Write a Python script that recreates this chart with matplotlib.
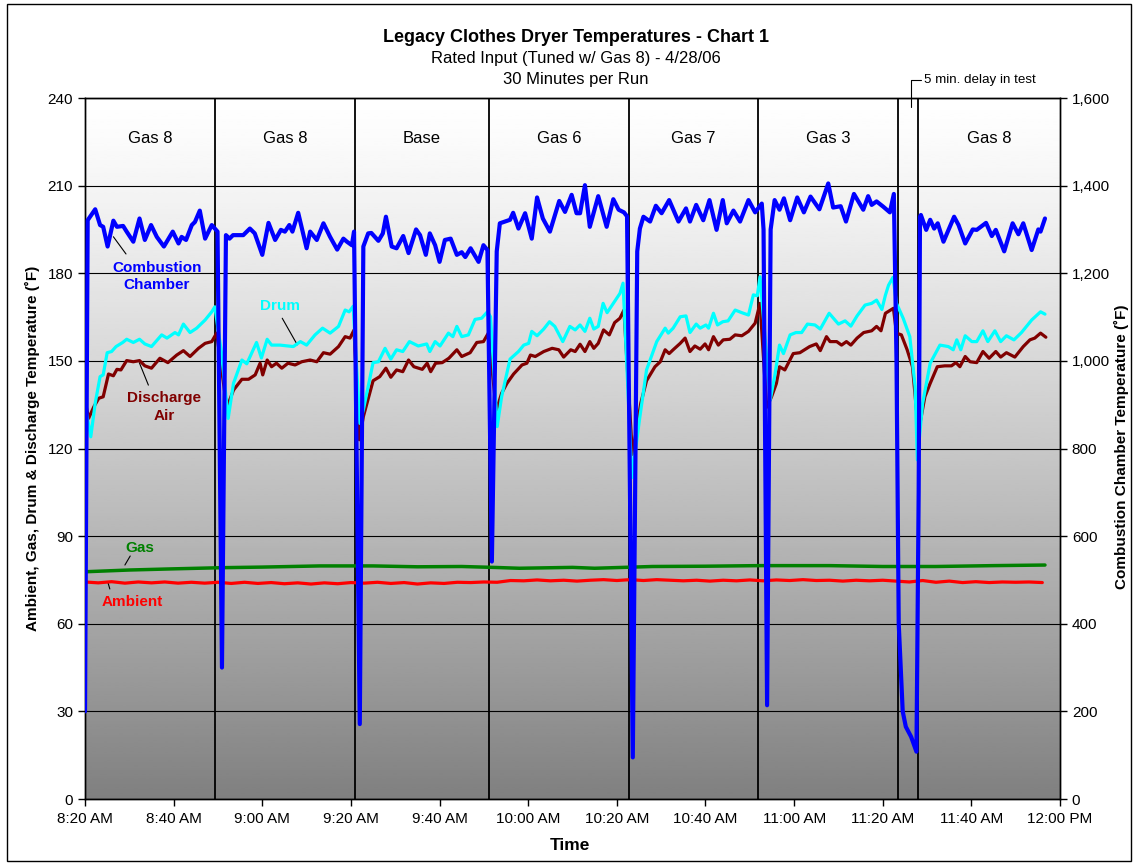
import numpy as np
import matplotlib
matplotlib.use('Agg')
import matplotlib.pyplot as plt
from matplotlib.ticker import FuncFormatter
from matplotlib.patches import Rectangle

plt.rcParams['font.family'] = ['Liberation Sans', 'DejaVu Sans']
plt.rcParams['font.size'] = 11
plt.rcParams['lines.solid_joinstyle'] = 'round'
plt.rcParams['lines.solid_capstyle'] = 'round'

# time in minutes after 8:20 AM
xtick_min = [0, 20, 40, 60, 80, 100, 120, 140, 160, 180, 200, 220]
xtick_lab = ['8:20 AM', '8:40 AM', '9:00 AM', '9:20 AM', '9:40 AM', '10:00 AM',
             '10:20 AM', '10:40 AM', '11:00 AM', '11:20 AM', '11:40 AM', '12:00 PM']

# run boundaries (minutes) and run names
bounds = [29.3, 60.9, 91.2, 122.7, 151.9, 183.5, 187.9]
run_start = [0, 29.3, 60.9, 91.2, 122.7, 151.9, 187.9]
run_end = [29.3, 60.9, 91.2, 122.7, 151.9, 183.5, 220]
run_names = ['Gas 8', 'Gas 8', 'Base', 'Gas 6', 'Gas 7', 'Gas 3', 'Gas 8']

# combustion chamber (F, right axis)
comb_t = [0, 0.6, 2.3, 3.4, 4.1, 5.1, 6.4, 7.2, 8.6, 9.4, 10.9, 12.3, 13.5, 14.9, 16.2,
          17.8, 19.8, 21.1, 21.8, 22.8, 24.1, 24.8, 25.9, 27.1, 28.6, 29.9, 30.9, 31.8,
          32.6, 33.4, 35.7, 37.2, 38.3, 40.0, 41.4, 42.9, 44.2, 45.1, 46.1, 46.8, 48.1,
          50.0, 50.8, 52.3, 53.8, 55.3, 56.9, 58.3, 59.1, 60.2, 60.7, 62.0, 62.8, 63.9,
          64.6, 66.2, 67.2, 67.9, 69.2, 70.3, 71.8, 73.0, 74.7, 75.6, 76.9, 77.8, 79.0,
          80.0, 81.2, 82.5, 83.9, 85.0, 85.8, 87.0, 88.8, 89.9, 90.8, 91.8, 92.9, 93.6,
          95.9, 96.6, 97.8, 99.3, 100.8, 102.0, 103.3, 104.9, 107.0, 108.3, 109.8, 110.9,
          111.7, 112.8, 113.9, 115.8, 117.7, 119.2, 120.4, 121.6, 122.3, 123.6, 124.6,
          125.2, 126.0, 127.5, 128.8, 130.1, 131.8, 133.9, 135.6, 136.5, 137.9, 139.5,
          140.9, 142.5, 143.9, 144.8, 146.3, 147.8, 149.7, 151.2, 152.7, 153.1, 153.9,
          154.7, 155.6, 156.7, 157.7, 159.1, 160.7, 162.2, 163.7, 165.7, 167.7, 168.8,
          170.5, 171.7, 173.5, 175.6, 176.7, 177.5, 178.6, 180.1, 181.6, 182.5, 183.1,
          183.6, 184.5, 185.2, 186.4, 187.6, 188.1, 188.4, 188.6, 189.8, 190.7, 191.6,
          192.4, 193.7, 196.1, 197.1, 198.6, 200.3, 201.2, 203.3, 204.6, 205.5, 207.4,
          209.3, 210.6, 211.7, 213.6, 215.1, 215.6, 216.6]
comb_v = [200, 1321, 1346, 1310, 1306, 1261, 1320, 1306, 1308, 1295, 1272, 1325, 1276, 1310, 1283,
          1261, 1295, 1268, 1283, 1276, 1310, 1317, 1343, 1279, 1310, 1295, 300, 1287,
          1279, 1287, 1287, 1302, 1291, 1242, 1315, 1276, 1299, 1295, 1310, 1295, 1338,
          1257, 1295, 1276, 1314, 1283, 1254, 1279, 1272, 1264, 1295, 171, 1261, 1291,
          1292, 1274, 1291, 1329, 1261, 1257, 1285, 1246, 1300, 1287, 1242, 1291, 1264,
          1226, 1276, 1279, 1242, 1248, 1237, 1257, 1226, 1264, 1253, 542, 1250, 1314,
          1322, 1338, 1302, 1337, 1279, 1373, 1325, 1295, 1365, 1340, 1379, 1337,
          1337, 1401, 1306, 1376, 1306, 1369, 1345, 1339, 1330, 95, 1250,
          1302, 1329, 1318, 1354, 1337, 1367, 1318, 1348, 1318, 1356, 1321,
          1367, 1299, 1367, 1314, 1343, 1318, 1367, 1339, 1359, 1300, 214,
          1300, 1367, 1345, 1371, 1321, 1373, 1339, 1375, 1346, 1405, 1350,
          1353, 1318, 1381, 1345, 1376, 1356, 1364, 1352, 1339, 1381, 1000,
          400, 200, 165, 142, 108, 700, 1329, 1333, 1299, 1322, 1302,
          1314, 1272, 1329, 1310, 1268, 1300, 1299, 1315, 1285, 1299, 1250,
          1314, 1289, 1314, 1253, 1300, 1295, 1325]

# drum (F, left axis)
drum_t = [0, 1.3, 2.3, 3.4, 4.1, 5.0, 6.0, 7.0, 8.5, 9.4, 10.9, 12.3, 13.5, 15.0, 17.3, 18.5,
          20.3, 21.1, 22.2, 23.7, 25.2, 27.1, 28.6, 29.3, 30.8, 32.3, 33.5, 35.4, 36.5, 38.7,
          39.8, 41.1, 42.1, 44.0, 47.0, 48.6, 50.0, 51.9, 53.6, 55.3, 57.2, 58.7, 59.6, 60.5,
          62.0, 62.8, 65.0, 66.2, 67.7, 69.0, 70.3, 71.7, 73.2, 75.2, 77.1, 77.8, 79.0, 80.1,
          82.0, 83.0, 83.9, 85.0, 86.5, 88.0, 89.5, 90.8, 91.5, 93.0, 94.0, 95.9, 97.8, 99.0,
          100.1, 100.8, 102.0, 103.5, 104.8, 106.0, 107.8, 109.4, 110.6, 111.7, 112.8, 113.9,
          114.8, 115.8, 116.9, 117.8, 119.2, 120.7, 121.4, 123.4, 125.1, 126.7, 129.0, 130.9,
          131.6, 132.7, 134.3, 135.6, 136.5, 137.9, 138.8, 140.1, 140.7, 141.8, 142.7, 143.9,
          145.1, 146.7, 148.2, 149.7, 150.8, 151.7, 152.3, 154.6, 155.6, 156.7, 157.6, 159.1,
          160.4, 161.7, 163.0, 164.7, 165.9, 167.9, 170.0, 171.5, 172.8, 174.2, 176.0, 177.5,
          178.6, 179.8, 180.6, 181.3, 182.3, 183.1, 184.6, 186.1, 187.3, 187.8, 189.0, 190.7,
          192.9, 194.8, 195.9, 196.7, 197.6, 198.6, 200.1, 201.2, 202.6, 203.7, 205.3, 206.6,
          207.9, 209.6, 211.3, 213.6, 215.6, 216.6]
drum_v = [134.9, 124.0, 135.5, 144.6, 145.2, 152.8, 153.2, 154.9, 156.3, 157.4, 156.3, 157.4, 155.8, 154.9, 158.9, 157.8,
          159.7, 158.9, 162.6, 159.7, 161.2, 164.0, 166.8, 168.5, 152.7, 130.3, 142.3, 150.3, 149.0, 156.3,
          151.0, 157.4, 155.4, 155.4, 154.9, 156.6, 155.4, 158.9, 161.2, 159.5, 161.8, 167.4, 166.8, 168.7,
          128.6, 133.2, 149.4, 149.7, 154.3, 150.6, 153.8, 153.2, 156.6, 155.1, 155.8, 153.2, 156.6, 155.1,
          159.5, 158.3, 161.8, 158.3, 158.9, 164.2, 164.6, 166.8, 165.1, 127.5, 137.7, 150.6, 153.2, 155.4,
          156.0, 160.1, 158.6, 160.9, 163.4, 161.8, 156.6, 161.8, 160.6, 162.3, 160.1, 164.6,
          160.9, 161.8, 169.7, 166.5, 169.7, 173.1, 176.6, 110.0, 129.8, 146.9, 156.6, 161.2,
          159.5, 161.2, 165.1, 165.4, 159.7, 162.6, 161.2, 162.3, 161.2, 166.3, 162.3, 163.4,
          163.7, 167.4, 166.5, 165.7, 172.6, 172.3, 178.8, 136.6, 144.6, 155.4, 152.5, 158.9,
          159.7, 159.7, 162.6, 162.3, 160.9, 166.3, 162.6, 163.7, 161.9, 165.4, 169.1, 169.7,
          170.8, 167.6, 172.5, 175.9, 178.6, 169.7, 164.6, 158.3, 141.2, 116.1, 135.5, 149.2,
          155.4, 154.9, 153.8, 157.2, 153.8, 158.6, 156.6, 156.6, 160.3, 156.6, 160.3, 156.6,
          158.6, 157.2, 159.7, 164.0, 166.8, 166.0]

# discharge air (F, left axis)
dis_t = [0, 0.8, 2.0, 3.1, 4.1, 5.3, 6.4, 7.2, 8.1, 9.4, 10.9, 12.3, 13.5, 15.0, 16.9, 18.7,
         20.7, 22.2, 23.7, 25.6, 27.1, 28.6, 29.7, 32.0, 33.5, 35.4, 36.9, 38.4, 39.5, 40.1,
         41.1, 42.1, 43.2, 44.4, 45.8, 47.4, 48.9, 50.8, 52.3, 53.8, 55.3, 57.2, 58.7, 59.8,
         60.7, 61.9, 62.8, 65.0, 66.5, 67.9, 69.0, 70.3, 71.7, 73.0, 74.2, 76.1, 77.2, 78.0,
         79.1, 80.6, 82.1, 83.9, 85.0, 86.9, 88.4, 89.9, 91.0, 92.8, 94.0, 95.2, 96.7, 98.6,
         99.7, 100.5, 101.6, 103.5, 105.4, 106.9, 108.0, 109.6, 110.6, 111.7, 112.8, 113.9,
         114.8, 115.8, 117.0, 118.3, 119.5, 120.7, 121.6, 123.5, 125.4, 126.7, 128.6, 129.8,
         130.9, 131.8, 132.7, 134.3, 135.4, 136.5, 137.6, 138.8, 139.9, 140.7, 141.8, 142.9,
         144.0, 145.5, 146.7, 148.2, 149.7, 151.2, 152.3, 153.8, 154.9, 156.0, 156.7, 157.9,
         159.8, 161.3, 163.5, 165.0, 165.9, 167.3, 168.1, 169.6, 170.7, 171.8, 172.8, 174.2,
         175.7, 177.5, 178.6, 179.6, 180.6, 182.4, 183.1, 184.2, 185.5, 186.7, 187.6, 188.4,
         189.5, 190.7, 192.3, 194.0, 195.5, 196.5, 197.4, 198.6, 199.7, 201.2, 202.6, 204.0,
         205.5, 206.6, 207.9, 209.8, 211.7, 213.2, 214.3, 215.6, 216.8]
dis_v = [136.6, 130.3, 134.3, 137.2, 137.7, 145.5, 144.9, 147.1, 146.9, 150.1, 149.7, 150.1, 148.3, 147.5, 150.9, 149.4,
         152.0, 153.5, 151.5, 154.3, 156.0, 156.6, 159.5, 134.0, 140.0, 143.7, 143.7, 145.2, 149.2, 145.2,
         150.3, 148.0, 149.2, 147.5, 149.2, 148.6, 149.7, 150.3, 149.7, 152.8, 152.3, 154.9, 158.3, 157.8,
         160.6, 123.0, 130.9, 143.2, 144.6, 147.5, 144.4, 146.9, 146.3, 150.3, 148.0, 147.1, 149.2, 146.3,
         149.2, 149.4, 150.9, 153.8, 151.5, 152.8, 156.3, 156.6, 159.5, 133.0, 138.9, 142.3, 145.5, 148.6,
         149.2, 152.0, 151.5, 153.2, 154.3, 153.8, 151.3, 153.8, 153.2, 155.7, 153.2, 156.6,
         154.3, 156.0, 160.6, 158.9, 163.1, 164.6, 167.4, 118.0, 135.5, 143.2, 148.0, 149.7,
         153.8, 152.5, 153.8, 156.0, 157.8, 153.2, 155.1, 154.0, 155.8, 153.8, 158.3, 155.4,
         157.2, 157.4, 158.9, 158.6, 160.1, 162.9, 169.7, 134.1, 137.7, 142.3, 148.0, 146.9,
         152.5, 152.8, 154.9, 155.8, 153.5, 158.3, 156.6, 156.6, 155.4, 156.6, 155.4, 157.8,
         159.7, 160.3, 161.8, 160.3, 166.3, 168.0, 159.5, 158.9, 153.8, 148.0, 133.2, 128.6,
         137.7, 142.3, 148.0, 148.3, 148.3, 149.4, 148.0, 151.5, 149.7, 149.4, 153.2, 150.9,
         153.2, 151.3, 152.8, 151.3, 154.9, 157.2, 157.8, 159.5, 158.1]

# gas (F, left axis)
gas_t = [0, 10, 20, 31, 40, 53, 65, 75, 85, 92, 98, 110, 115, 128, 140, 152, 168, 180, 192, 205, 216.6]
gas_v = [77.8, 78.4, 78.8, 79.2, 79.4, 79.8, 79.8, 79.5, 79.6, 79.3, 79.0, 79.3, 79.0, 79.6,
         79.7, 79.9, 79.9, 79.6, 79.6, 79.9, 80.1]

# ambient (F, left axis), sampled every 3 min
amb_t = np.arange(0, 217, 3)
amb_v = [74.3, 74.0, 74.4, 73.9, 74.3, 74.0, 74.3, 73.9, 74.2, 73.9, 74.2,
         73.8, 74.2, 73.8, 74.1, 73.7, 74.0, 73.6, 74.0, 73.7, 74.1,
         73.9, 74.2, 73.8, 74.1, 73.6, 74.0, 73.8, 74.2, 74.1, 74.3,
         74.2, 74.8, 74.7, 75.0, 74.7, 74.9, 74.6, 74.9, 75.1, 74.8,
         75.1, 74.8, 75.1, 74.9, 74.7, 74.9, 74.6, 74.9, 74.7, 75.0,
         74.7, 75.0, 74.8, 75.1, 74.8, 74.9, 74.6, 74.9, 74.7, 74.9,
         74.6, 74.3, 74.8, 74.2, 74.6, 74.1, 74.4, 74.1, 74.3, 74.2, 74.3, 74.1]

###############################################################################

fig = plt.figure(figsize=(11.38, 8.65), dpi=100)
ax = fig.add_axes([0.0747, 0.0763, 0.8568, 0.8104])

# grey gradient background
t = np.linspace(0, 1, 256)
grad = (255 - 127 * t ** 1.2).reshape(-1, 1)
ax.imshow(grad, extent=[0, 220, 0, 240], aspect='auto', cmap='gray',
          vmin=0, vmax=255, origin='upper', zorder=0, interpolation='bilinear')

ax.set_xlim(0, 220)
ax.set_ylim(0, 240)
ax.set_yticks(np.arange(0, 241, 30))
ax.set_xticks(xtick_min)
ax.set_xticklabels(xtick_lab)
ax.grid(axis='y', color='black', lw=0.8, zorder=1)
ax.set_axisbelow(False)
for b in bounds:
    ax.axvline(b, color='black', lw=1.3, zorder=2)

for s, e, n in zip(run_start, run_end, run_names):
    ax.text((s + e) / 2, 226.3, n, ha='center', va='center', fontsize=12)

ax.plot(amb_t, amb_v, color='#FF0000', lw=2.3, zorder=3)
ax.plot(gas_t, gas_v, color='#008000', lw=2.5, zorder=3)
ax.plot(dis_t, dis_v, color='#800000', lw=2.3, zorder=3)
ax.plot(drum_t, drum_v, color='#00FFFF', lw=2.3, zorder=4)

# labels with leader lines
ax.text(16.2, 179, 'Combustion\nChamber', color='#0000FF', weight='bold', ha='center',
        va='center', fontsize=11, linespacing=1.3)
ax.plot([6.4, 9.25], [192.5, 186.6], color='black', lw=0.8)
ax.text(44, 168.8, 'Drum', color='#00FFFF', weight='bold', ha='center', va='center', fontsize=11)
ax.plot([44.5, 47.9], [164.6, 155.5], color='black', lw=0.8)
ax.text(17.8, 134.2, 'Discharge\nAir', color='#800000', weight='bold', ha='center',
        va='center', fontsize=11, linespacing=1.3)
ax.plot([12.25, 14.3], [149.4, 141.7], color='black', lw=0.8)
ax.text(12.4, 85.9, 'Gas', color='#008000', weight='bold', ha='center', va='center', fontsize=11)
ax.plot([10.2, 9.0], [83.2, 80.1], color='black', lw=0.8)
ax.text(10.6, 67.4, 'Ambient', color='#FF0000', weight='bold', ha='center', va='center', fontsize=11)
ax.plot([5.2, 5.6], [74.0, 71.9], color='black', lw=0.8)

# 5 min delay note
ax.plot([186.4, 186.4, 188.6], [236.9, 246.2, 246.2], color='black', lw=0.8, clip_on=False)
ax.text(189.2, 246.2, '5 min. delay in test', ha='left', va='center', fontsize=9.6)

ax2 = ax.twinx()
ax2.set_ylim(0, 1600)
ax2.set_yticks(np.arange(0, 1601, 200))
ax2.yaxis.set_major_formatter(FuncFormatter(lambda v, p: '{:,.0f}'.format(v)))
ax2.plot(comb_t, comb_v, color='#0000FF', lw=3, zorder=5)

for a in (ax, ax2):
    a.tick_params(direction='out', length=5, width=1, labelsize=11, color='black')
    for sp in a.spines.values():
        sp.set_linewidth(1)
        sp.set_color('black')
ax.tick_params(axis='x', pad=4)

fig.text(0.506, 0.957, 'Legacy Clothes Dryer Temperatures - Chart 1', ha='center', va='center',
         fontsize=13, weight='bold')
fig.text(0.506, 0.932, 'Rated Input (Tuned w/ Gas 8) - 4/28/06', ha='center', va='center', fontsize=12)
fig.text(0.506, 0.908, '30 Minutes per Run', ha='center', va='center', fontsize=12)
fig.text(0.501, 0.0231, 'Time', ha='center', va='center', fontsize=12.5, weight='bold')
fig.text(0.0281, 0.4815, 'Ambient, Gas, Drum & Discharge Temperature (˚F)', rotation=90,
         ha='center', va='center', fontsize=11, weight='bold')
fig.text(0.9852, 0.4840, 'Combustion Chamber Temperature (˚F)', rotation=90,
         ha='center', va='center', fontsize=11, weight='bold')

fig.patches.append(Rectangle((0.006, 0.005), 0.988, 0.990, transform=fig.transFigure,
                             fill=False, edgecolor='black', lw=1))

fig.savefig('out.png', dpi=100)
